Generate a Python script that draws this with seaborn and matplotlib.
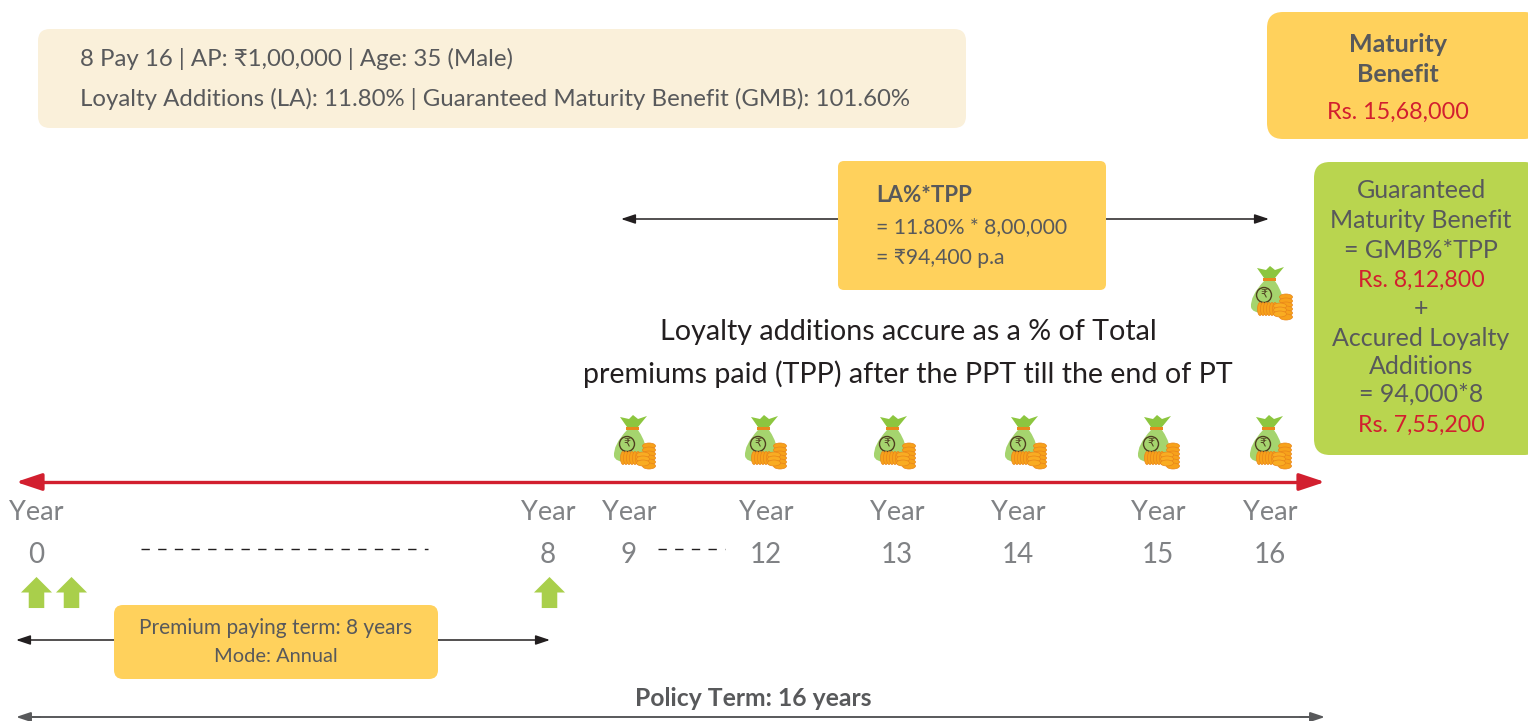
import matplotlib
matplotlib.use("Agg")
import matplotlib.pyplot as plt
from matplotlib.patches import FancyBboxPatch, Polygon, Ellipse, Circle, PathPatch
from matplotlib.path import Path
import numpy as np
import pandas as pd
import seaborn as sns

sns.set_theme(style="white")
plt.rcParams['font.family'] = ['Lato', 'DejaVu Sans']

# ---- content ----
year_labels = ["0", "8", "9", "12", "13", "14", "15", "16"]
year_px = [36, 548, 629, 766, 897, 1018, 1158, 1270]
payment_px = [36, 71, 549]
bag_px = [635, 766, 895, 1026, 1159, 1271]
extra_bag_px = [1272]

header_lines = ["8 Pay 16 | AP: ₹1,00,000 | Age: 35 (Male)",
                "Loyalty Additions (LA): 11.80% | Guaranteed Maturity Benefit (GMB): 101.60%"]
la_lines = ["= 11.80% * 8,00,000", "= ₹94,400 p.a"]
accrual_lines = ["Loyalty additions accure as a % of Total",
                 "premiums paid (TPP) after the PPT till the end of PT"]
gmb_lines = [("Guaranteed", 190, 0), ("Maturity Benefit", 219, 0), ("= GMB%*TPP", 249, 0),
             ("Rs. 8,12,800", 279, 1), ("+", 308, 0), ("Accured Loyalty", 337, 0),
             ("Additions", 365, 0), ("= 94,000*8", 393, 0), ("Rs. 7,55,200", 424, 1)]

CREAM, YELLOW, GREEN = "#FAF0DA", "#FFD15C", "#B9D54F"
RED, DARK, GREY = "#D21F2F", "#58595B", "#808285"

fig = plt.figure(figsize=(15.28, 7.21), dpi=100)
ax = fig.add_axes([0, 0, 1, 1])
ax.set_xlim(0, 1528)
ax.set_ylim(721, 0)
ax.axis("off")


def box(x0, y0, x1, y1, color, r=12):
    ax.add_patch(FancyBboxPatch((x0, y0), x1 - x0, y1 - y0, boxstyle=f"round,pad=0,rounding_size={r}",
                                fc=color, ec="none", zorder=2))


def txt(x, y, s, size=17, color=DARK, ha="center", weight="normal"):
    ax.text(x, y, s, fontsize=size, color=color, ha=ha, va="center", weight=weight, zorder=5)


def arrow(x0, x1, y, color="#231F20", lw=1.1, ms=11):
    ax.annotate("", xy=(x1, y), xytext=(x0, y), zorder=1,
                arrowprops=dict(arrowstyle="-|>,head_length=0.6,head_width=0.2", color=color, lw=lw,
                                shrinkA=0, shrinkB=0, mutation_scale=ms * 1.3))


def bag(cx, t):
    """Money-bag pictogram; cx is the icon centre, t its upper edge."""
    body = Path([(cx - 8, t + 15),
                 (cx - 22, t + 30), (cx - 21, t + 41),
                 (cx - 20, t + 47), (cx - 8, t + 47),
                 (cx + 2, t + 47), (cx + 8, t + 44),
                 (cx + 15, t + 32), (cx + 3, t + 15),
                 (cx - 8, t + 15)],
                [Path.MOVETO, Path.CURVE3, Path.CURVE3, Path.CURVE3, Path.CURVE3,
                 Path.CURVE3, Path.CURVE3, Path.CURVE3, Path.CURVE3, Path.LINETO])
    ax.add_patch(PathPatch(body, fc="#A5D46E", ec="none", zorder=3))
    ax.add_patch(Polygon([(cx - 8, t + 12), (cx - 15, t + 2), (cx - 6, t + 4), (cx - 2, t),
                          (cx + 3, t + 4), (cx + 12, t + 1), (cx + 3, t + 12)],
                         fc="#8CC63F", ec="none", zorder=3))
    ax.add_patch(Polygon([(cx - 9, t + 12), (cx + 4, t + 12), (cx + 4, t + 15), (cx - 9, t + 15)],
                         fc="#E8891C", ec="none", zorder=4))
    ax.add_patch(Circle((cx - 8, t + 29), 7.5, fc="none", ec="#4F3F20", lw=1.0, zorder=4))
    ax.text(cx - 8, t + 29, "₹", fontsize=8, color="#4F3F20", ha="center", va="center",
            family=["DejaVu Sans"], zorder=4)
    for dy in range(31, 53, 4):
        ax.add_patch(Ellipse((cx + 14, t + dy), 13, 6, fc="#F7A21B", ec="#E8851A", lw=0.5, zorder=4))
    for dx in np.arange(-12, 4, 3):
        ax.add_patch(Ellipse((cx + dx, t + 43), 5, 13, fc="#F7A21B", ec="#E8851A", lw=0.5, zorder=4))
    for dy in range(40, 52, 4):
        ax.add_patch(Ellipse((cx + 8, t + dy), 13, 6, fc="#F9AC22", ec="#E8851A", lw=0.5, zorder=5))


# ---- boxes ----
box(38, 29, 966, 128, CREAM)
box(1267, 12, 1540, 139, YELLOW, 16)
box(838, 161, 1106, 290, YELLOW, 6)
box(1314, 162, 1540, 455, GREEN, 16)
box(114, 605, 438, 679, YELLOW, 9)

# ---- header ----
txt(80, 59, header_lines[0], 17.25, ha="left")
txt(80, 99, header_lines[1], 17.25, ha="left")

# ---- maturity ----
txt(1398, 45, "Maturity", 18, weight="bold")
txt(1398, 74, "Benefit", 18, weight="bold")
txt(1398, 112, "Rs. 15,68,000", 16.8, RED)

# ---- LA box ----
txt(876, 195, "LA%*TPP", 16, ha="left", weight="bold")
txt(876, 227, la_lines[0], 15.2, ha="left")
txt(876, 258, la_lines[1], 15.2, ha="left")
arrow(838, 621, 219)
arrow(1106, 1269, 219)

# ---- accrual note ----
txt(908, 332, accrual_lines[0], 20.6, "#231F20")
txt(908, 374, accrual_lines[1], 20.6, "#231F20")

# ---- green box ----
for s, y, red in gmb_lines:
    txt(1421, y + 1, s, 16.7 if red else 18, RED if red else DARK)

# ---- timeline ----
ax.plot([30, 1310], [482, 482], color=RED, lw=2.4, zorder=1)
arrow(40, 16, 482, RED, lw=2.4, ms=20)
arrow(1300, 1325, 482, RED, lw=2.4, ms=20)
for x, lab in zip(year_px, year_labels):
    txt(x, 513, "Year", 19.5, GREY)
    txt(x, 555, lab, 20, GREY)
ax.plot([141, 428], [549, 549], color="#231F20", lw=1, ls=(0, (6, 6)))
ax.plot([658, 725], [549, 549], color="#231F20", lw=1, ls=(0, (6, 6)))

# ---- payments, through the seaborn scatter layer ----
arrow_marker = Path([(-1.0, 0.0), (0.0, 1.0), (1.0, 0.0), (0.5, 0.0), (0.5, -1.0), (-0.5, -1.0), (-0.5, 0.0), (-1.0, 0.0)],
                    closed=True)
payments = pd.DataFrame({"x": payment_px, "y": [592] * len(payment_px)})
sns.scatterplot(data=payments, x="x", y="y", marker=arrow_marker, s=500, color="#A9CF4B", linewidth=0, ax=ax,
                legend=False, zorder=4)
ax.set_xlim(0, 1528)
ax.set_ylim(721, 0)
ax.axis("off")

# ---- bags ----
for x in bag_px:
    bag(x, 415)
for x in extra_bag_px:
    bag(x, 266)

# ---- ppt ----
txt(276, 628, "Premium paying term: 8 years", 15)
txt(276, 657, "Mode: Annual", 14.4)
arrow(114, 16, 640)
arrow(438, 550, 640)

# ---- policy term ----
txt(753, 698, "Policy Term: 16 years", 17.8, weight="bold")
ax.plot([30, 1310], [717, 717], color=DARK, lw=1.4, zorder=1)
arrow(40, 16, 717, DARK, lw=1.4)
arrow(1300, 1325, 717, DARK, lw=1.4)

fig.savefig("out.png", dpi=100, facecolor="white")
